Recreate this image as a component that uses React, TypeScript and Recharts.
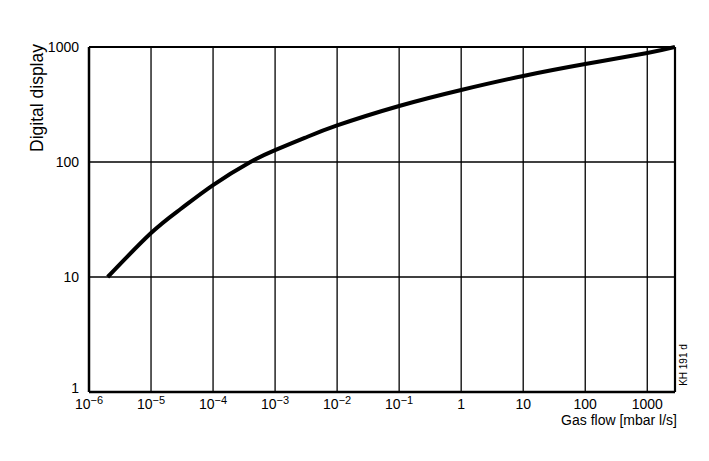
import { LineChart, Line, XAxis, YAxis, CartesianGrid, ReferenceLine, Label } from 'recharts';

// gas flow (mbar l/s) vs. digital display reading
const gasFlow = [2e-6, 1e-5, 3e-5, 1e-4, 4e-4, 1e-3, 3e-3, 1e-2, 1e-1, 1, 10, 100, 1000, 2800];
const display = [10, 24.1, 39, 63, 100, 127, 162, 208, 307, 423, 560, 711, 887, 1000];

const xTicks = [1e-6, 1e-5, 1e-4, 1e-3, 1e-2, 1e-1, 1, 10, 100, 1000];
const yTicks = [1, 10, 100, 1000];
const xMax = 2800;

const data = gasFlow.map((x, i) => ({ x, y: display[i] }));

const FONT = '"Liberation Sans", Arial, Helvetica, sans-serif';

const XTick = (props: any) => {
    const { x, y, payload } = props;
    const e = Math.round(Math.log10(payload.value));
    if (e >= 0) {
        return (
            <text x={x} y={y + 9} textAnchor="middle" fontSize={14} fill="#000" fontFamily={FONT}>
                {String(10 ** e)}
            </text>
        );
    }
    return (
        <text x={x} y={y + 9} textAnchor="middle" fill="#000" fontFamily={FONT}>
            <tspan fontSize={14}>10</tspan>
            <tspan fontSize={11} dy={-5}>{'\u2212' + Math.abs(e)}</tspan>
        </text>
    );
};

const YTick = (props: any) => {
    const { x, y, payload } = props;
    // the bottom label sits just above the axis line
    const shift = payload.value === 1 ? -4 : 0;
    return (
        <text x={x} y={y + shift} dy={5} textAnchor="end" fontSize={14} fill="#000" fontFamily={FONT}>
            {payload.value}
        </text>
    );
};

export default function App() {
    return (
        <div style={{ position: 'absolute', left: 0, top: 0, background: '#fff' }}>
            <style>{'body{margin:0;}'}</style>
            <LineChart width={709} height={461} data={data} margin={{ top: 47, right: 34, bottom: 39, left: 0 }}>
                <CartesianGrid stroke="#000" strokeWidth={1.3} />
                <XAxis
                    dataKey="x"
                    type="number"
                    scale="log"
                    domain={[1e-6, xMax]}
                    allowDataOverflow
                    ticks={xTicks}
                    interval={0}
                    height={30}
                    tickLine={false}
                    axisLine={{ stroke: '#000', strokeWidth: 2.5 }}
                    tick={<XTick />}
                >
                    <Label
                        content={() => (
                            <text x={677} y={425} textAnchor="end" fontSize={14} fill="#000" fontFamily={FONT}>
                                Gas flow [mbar l/s]
                            </text>
                        )}
                    />
                </XAxis>
                <YAxis
                    type="number"
                    scale="log"
                    domain={[1, 1000]}
                    ticks={yTicks}
                    interval={0}
                    width={89}
                    tickLine={false}
                    tickMargin={4}
                    axisLine={{ stroke: '#000', strokeWidth: 2.5 }}
                    tick={<YTick />}
                >
                    <Label
                        content={() => (
                            <text
                                x={43}
                                y={98}
                                transform="rotate(-90 43 98)"
                                textAnchor="middle"
                                fontSize={17.5}
                                fill="#000"
                                fontFamily={FONT}
                            >
                                Digital display
                            </text>
                        )}
                    />
                </YAxis>
                <ReferenceLine y={1000} stroke="#000" strokeWidth={2.2} />
                <ReferenceLine x={xMax} stroke="#000" strokeWidth={2.2} />
                <ReferenceLine
                    y={1}
                    stroke="none"
                    label={
                        <Label
                            content={() => (
                                <text
                                    x={687}
                                    y={365}
                                    transform="rotate(-90 687 365)"
                                    textAnchor="middle"
                                    fontSize={10}
                                    fill="#000"
                                    fontFamily={FONT}
                                >
                                    KH 191 d
                                </text>
                            )}
                        />
                    }
                />
                <Line
                    type="natural"
                    dataKey="y"
                    stroke="#000"
                    strokeWidth={4}
                    dot={false}
                    isAnimationActive={false}
                />
            </LineChart>
        </div>
    );
}
